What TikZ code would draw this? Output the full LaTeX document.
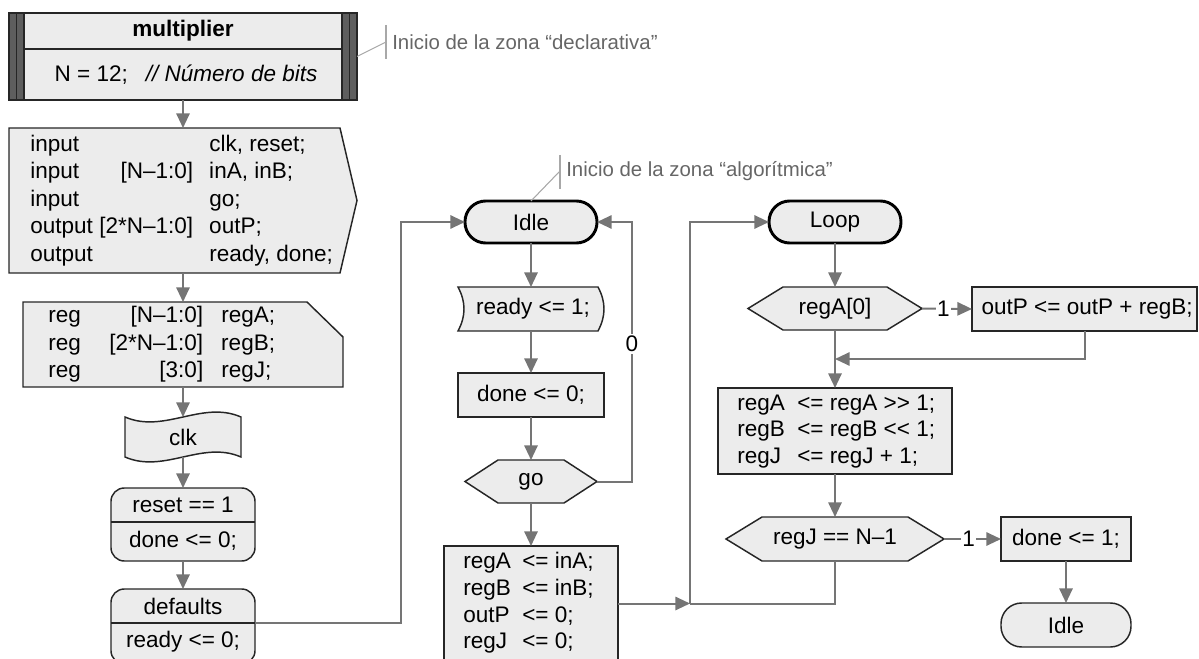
\documentclass[tikz,border=0pt]{standalone}
\usepackage{fontspec}
\setmainfont{Liberation Sans}
\usetikzlibrary{arrows.meta,fit,calc}

\definecolor{boxf}{HTML}{ECECEC}
\definecolor{boxc}{HTML}{262626}
\definecolor{flowc}{HTML}{757575}
\definecolor{barc}{HTML}{5E5E5E}
\definecolor{notec}{HTML}{666666}
\definecolor{notel}{HTML}{A8A8A8}

\newcommand\txtsize{\fontsize{16.9}{20.6}\selectfont}
\newcommand\codesize{\fontsize{16.9}{20}\selectfont}
\newcommand\notesize{\fontsize{15.3}{18}\selectfont}
% one declaration row: keyword, range (right aligned), names
\newcommand\declrow[3]{\makebox[122.25pt][l]{#1\hfill #2}\hspace{12pt}#3}
\newcommand\regrow[3]{\makebox[116.25pt][l]{#1\hfill #2}\hspace{13.5pt}#3}
\newcommand\asgn[3]{\makebox[#1][l]{#2}#3}

\tikzset{
  frame/.style={inner sep=0pt, outer sep=0pt},
  box/.style={frame, draw=boxc, fill=boxf, line width=1.1pt},
  outline/.style={draw=boxc, fill=boxf, line width=1.1pt, line join=miter},
  term/.style={box, draw=black, line width=2.2pt, rounded corners=15.5pt},
  termthin/.style={box, rounded corners=15.5pt},
  rbox/.style={box, rounded corners=10pt},
  wire/.style={draw=flowc, line width=1.5pt},
  flow/.style={wire, -{Triangle[length=11pt,width=10pt]}},
  lbl/.style={fill=white, inner sep=1.2pt},
  noteline/.style={draw=notel, line width=0.8pt},
  notetext/.style={text=notec, anchor=west, inner sep=0pt, font=\notesize},
}

\begin{document}
\begin{tikzpicture}[x=0.75pt, y=-0.75pt, font=\txtsize]
\useasboundingbox (0,0) rectangle (1199,659);
\clip (0,0) rectangle (1199,659);

% ---------- module header ----------
\node[box, fit={(9,13) (357,100)}] (hdr) {};
\fill[barc] (9,13) rectangle (24,100);
\fill[barc] (342,13) rectangle (357,100);
\draw[boxc, line width=1.1pt] (9,13) rectangle (357,100);
\draw[boxc, line width=1pt] (16.5,13) -- (16.5,100) (24,13) -- (24,100)
  (342,13) -- (342,100) (349.5,13) -- (349.5,100) (24,49) -- (342,49);
\node (hdr-name) at (183,31) {\bfseries multiplier};
\node (hdr-param) at (186,74.5) {N = 12;\hspace{13.5pt}\itshape // Número de bits};

% ---------- ports ----------
\filldraw[outline] (9,128) -- (340,128) -- (357,200.5) -- (340,273) -- (9,273) -- cycle;
\node[frame, fit={(9,128) (357,273)}] (decl) {};
\node[anchor=west, align=left, inner sep=0pt] (decl-text) at (30,200.5) {%
  \declrow{input}{}{clk, reset;}\\
  \declrow{input}{[N–1:0]}{inA, inB;}\\
  \declrow{input}{}{go;}\\
  \declrow{output}{[2*N–1:0]}{outP;}\\
  \declrow{output}{}{ready, done;}};

% ---------- registers ----------
\filldraw[outline] (23,302) -- (307,302) -- (343,337) -- (343,387) -- (23,387) -- cycle;
\node[frame, fit={(23,302) (343,387)}] (regs) {};
\node[anchor=west, align=left, inner sep=0pt] (regs-text) at (48,344.5) {%
  \regrow{reg}{[N–1:0]}{regA;}\\
  \regrow{reg}{[2*N–1:0]}{regB;}\\
  \regrow{reg}{[3:0]}{regJ;}};

% ---------- clock ----------
\filldraw[outline] (125,417) .. controls (164,434) and (202,400) .. (241,417)
  -- (241,457) .. controls (202,440) and (164,474) .. (125,457) -- cycle;
\node[frame, fit={(125,417) (241,457)}] (clk) {};
\node (clk-t) at (clk.center) {clk};

% ---------- reset / defaults ----------
\node[rbox, fit={(111,488) (255,561)}] (reset) {};
\draw[boxc, line width=1.1pt] (111,522) -- (255,522);
\node (reset-c) at (183,505) {reset == 1};
\node (reset-a) at (183,541) {done <= 0;};

\node[rbox, fit={(111,589) (255,664)}] (dflt) {};
\draw[boxc, line width=1.1pt] (111,623) -- (255,623);
\coordinate (dflt-div) at (255,623);
\node (dflt-c) at (183,606) {defaults};
\node (dflt-a) at (183,642) {ready <= 0;};

% ---------- Idle state ----------
\node[term, fit={(465,201) (597,243)}] (idle) {};
\node (idle-t) at (idle.center) {Idle};

\filldraw[outline] (458,287) -- (598,287) .. controls (606,302) and (606,316) .. (598,331)
  -- (458,331) .. controls (466,316) and (466,302) .. (458,287) -- cycle;
\node[frame, fit={(458,287) (604,331)}] (ready) {};
\node (ready-t) at ([xshift=1.5pt]ready.center) {ready <= 1;};

\node[box, fit={(458,373) (604,417)}] (done0) {};
\node (done0-t) at (done0.center) {done <= 0;};

\filldraw[outline] (465,481.5) -- (498,460) -- (564,460) -- (597,481.5) -- (564,503) -- (498,503) -- cycle;
\node[frame, fit={(465,460) (597,503)}] (go) {};
\node (go-t) at (go.center) {go};

\node[box, fit={(444,546) (618,661)}] (init) {};
\node[anchor=west, align=left, inner sep=0pt, font=\codesize] (init-text) at (463,603) {%
  \asgn{44.25pt}{regA}{<= inA;}\\
  \asgn{44.25pt}{regB}{<= inB;}\\
  \asgn{44.25pt}{outP}{<= 0;}\\
  \asgn{44.25pt}{regJ}{<= 0;}};

% ---------- Loop state ----------
\node[term, fit={(769,201) (901,243)}] (loop) {};
\node (loop-t) at (loop.center) {Loop};

\filldraw[outline] (748,308.5) -- (783,287) -- (887,287) -- (922,308.5) -- (887,330) -- (783,330) -- cycle;
\node[frame, fit={(748,287) (922,330)}] (rega0) {};
\node (rega0-t) at (rega0.center) {regA[0]};

\node[box, fit={(972,287) (1197,331)}] (outp) {};
\node (outp-t) at ([xshift=2pt]outp.center) {outP <= outP + regB;};

\node[box, fit={(718,388) (952,474)}] (shift) {};
\node[anchor=west, align=left, inner sep=0pt, font=\codesize] (shift-text) at (737,431.5) {%
  \asgn{45pt}{regA}{<= regA >\kern0pt> 1;}\\
  \asgn{45pt}{regB}{<= regB <\kern0pt< 1;}\\
  \asgn{45pt}{regJ}{<= regJ + 1;}};

\filldraw[outline] (726,539) -- (762,517) -- (908,517) -- (944,539) -- (908,561) -- (762,561) -- cycle;
\node[frame, fit={(726,517) (944,561)}] (regj) {};
\node (regj-t) at (regj.center) {regJ == N–1};

\node[box, fit={(1001,517) (1131,561)}] (done1) {};
\node (done1-t) at (done1.center) {done <= 1;};
\node[termthin, fit={(1001,603) (1131,647)}] (idle2) {};
\node (idle2-t) at (idle2.center) {Idle};

% ---------- connectors ----------
\coordinate (bus-a) at (401,222);
\coordinate (bus-b) at (632,481.5);
\coordinate (join) at (690,603.5);
\coordinate (merge) at (835,359);

\draw[flow] (hdr.south) -- (decl.north);
\draw[flow] (decl.south) -- (regs.north);
\draw[flow] (regs.south) -- (clk.north);
\draw[flow] (clk.south) -- (reset.north);
\draw[flow] (reset.south) -- (dflt.north);
\draw[flow] (dflt-div) -| (bus-a) -- (idle.west);

\draw[flow] (idle.south) -- (ready.north);
\draw[flow] (ready.south) -- (done0.north);
\draw[flow] (done0.south) -- (go.north);
\draw[flow] (go.south) -- (init.north);
\draw[flow] (go.east) -- (bus-b) -- node[lbl, pos=0.53] (lbl-go) {0} (bus-b |- idle.east) -- (idle.east);

\draw[flow] (init.east) -- (join);
\draw[wire] (regj.south) |- (join);
\draw[flow] (join) |- (loop.west);

\draw[flow] (loop.south) -- (rega0.north);
\draw[flow] (rega0.east) -- node[lbl, pos=0.43] (lbl-a0) {1} (outp.west);
\draw[flow] (outp.south) |- (merge);
\draw[flow] (rega0.south) -- (shift.north);
\draw[flow] (shift.south) -- (regj.north);
\draw[flow] (regj.east) -- node[lbl, pos=0.43] (lbl-j) {1} (done1.west);
\draw[flow] (done1.south) -- (idle2.north);

% ---------- callouts ----------
\coordinate (note-decl-k) at (386,42);
\draw[noteline] (hdr.east) -- (note-decl-k);
\draw[noteline] (386,25) -- (386,59);
\node[notetext] (note-decl) at (392,42) {Inicio de la zona “declarativa”};

\coordinate (note-alg-k) at (560,171);
\draw[noteline] (idle.north) -- (note-alg-k);
\draw[noteline] (560,155) -- (560,189);
\node[notetext] (note-alg) at (566,171) {Inicio de la zona “algorítmica”};
\end{tikzpicture}
\end{document}
